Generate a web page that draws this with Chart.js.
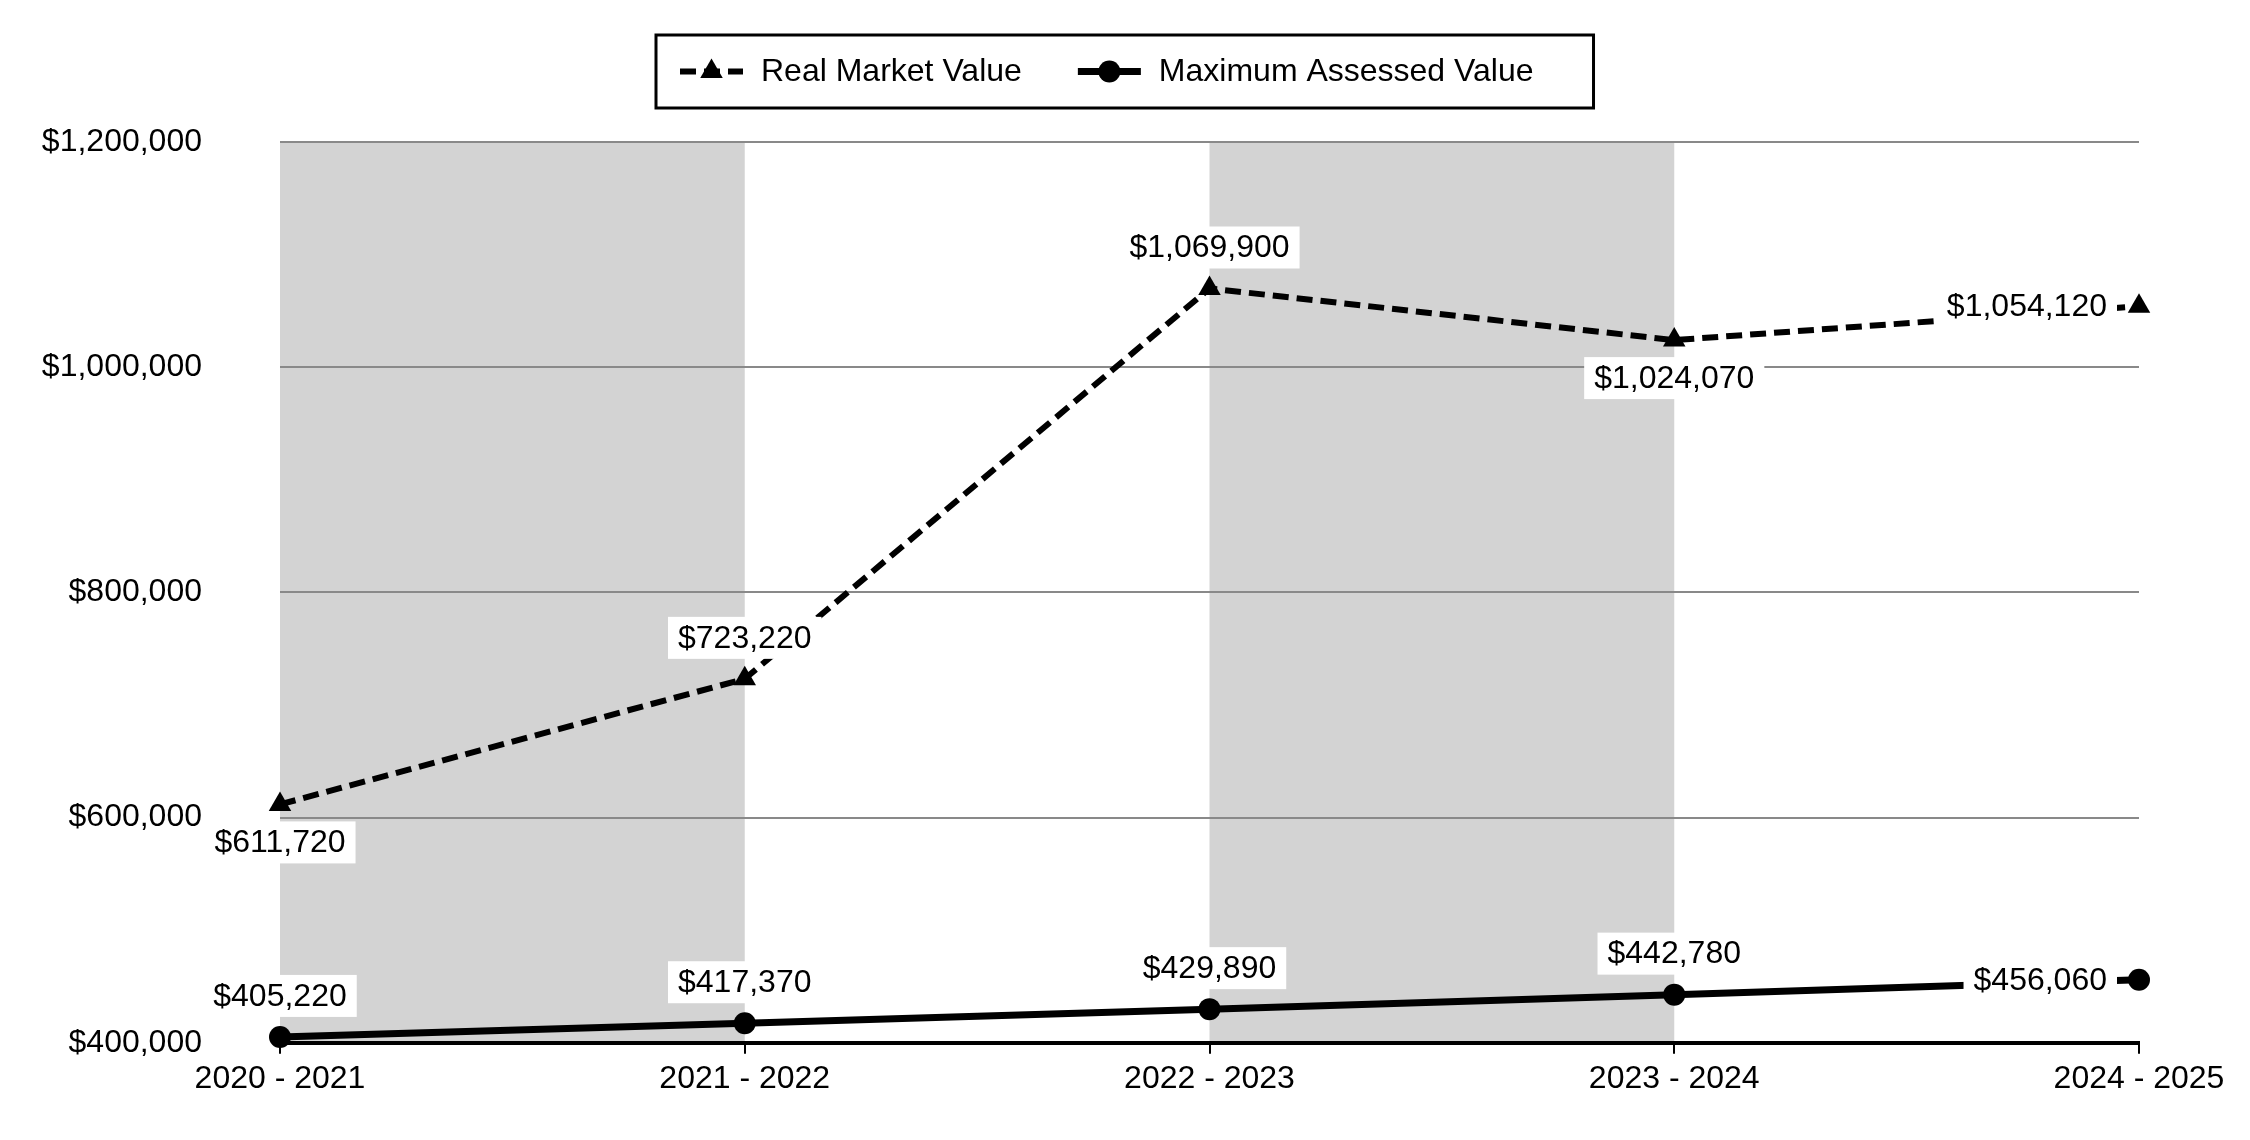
<!DOCTYPE html>
<html>
<head>
<meta charset="utf-8">
<script src="https://cdn.jsdelivr.net/npm/chart.js@4.4.1/dist/chart.umd.min.js"></script>
<style>
  html, body { margin: 0; padding: 0; background: #fff; overflow: hidden; }
  canvas { display: block; }
</style>
</head>
<body>
<canvas id="chart" width="2250" height="1140"></canvas>
<script>
// data
const years = ['2020 - 2021', '2021 - 2022', '2022 - 2023', '2023 - 2024', '2024 - 2025'];
const realMarketValue = [611720, 723220, 1069900, 1024070, 1054120];
const maxAssessedValue = [405220, 417370, 429890, 442780, 456060];
const yTicks = [400000, 600000, 800000, 1000000, 1200000];
// grey bands between these category pairs
const shadedBands = [[0, 1], [2, 3]];

const FONT = "'Liberation Sans', Arial, sans-serif";
Chart.defaults.font.family = FONT;
Chart.defaults.font.size = 32;
Chart.defaults.color = '#000';

function money(v) {
  return '$' + v.toLocaleString('en-US');
}

// shaded columns behind the grid
const bands = {
  id: 'bands',
  beforeDraw(chart) {
    const { ctx, chartArea, scales } = chart;
    ctx.save();
    ctx.fillStyle = '#d3d3d3';
    shadedBands.forEach(([a, b]) => {
      const x1 = scales.x.getPixelForValue(a);
      const x2 = scales.x.getPixelForValue(b);
      ctx.fillRect(x1, chartArea.top, x2 - x1, chartArea.bottom - chartArea.top);
    });
    ctx.restore();
  }
};

// value labels with white boxes
const pointLabels = {
  id: 'pointLabels',
  afterDatasetsDraw(chart, args, opts) {
    const ctx = chart.ctx;
    ctx.save();
    ctx.font = '32px ' + FONT;
    ctx.textAlign = 'center';
    ctx.textBaseline = 'middle';
    chart.data.datasets.forEach((ds, di) => {
      const meta = chart.getDatasetMeta(di);
      const places = opts.placement[di];
      meta.data.forEach((pt, i) => {
        const text = money(ds.data[i]);
        const w = ctx.measureText(text).width + 20;
        const h = 42;
        let cx = pt.x, cy = pt.y;
        if (places[i] === 'above') cy -= 41;
        else if (places[i] === 'below') cy += 38;
        else cx = pt.x - 22 - w / 2;
        ctx.fillStyle = '#fff';
        ctx.fillRect(cx - w / 2, cy - h / 2, w, h);
        ctx.fillStyle = '#000';
        ctx.fillText(text, cx, cy + 1);
      });
    });
    ctx.restore();
  }
};

// boxed legend with line + marker samples
const boxLegend = {
  id: 'boxLegend',
  afterDraw(chart) {
    const ctx = chart.ctx;
    ctx.save();
    ctx.font = '32px ' + FONT;
    const sampleW = 63, gap = 18, itemGap = 56, padL = 24, padR = 60;
    const items = chart.data.datasets.map(ds => ({ ds, w: ctx.measureText(ds.label).width }));
    let total = padL + padR + itemGap * (items.length - 1);
    items.forEach(it => { total += sampleW + gap + it.w; });
    const left = Math.round((chart.width - total) / 2), top = 35, h = 73;
    ctx.lineWidth = 3;
    ctx.strokeStyle = '#000';
    ctx.strokeRect(left, top, total, h);
    let x = left + padL;
    const cy = top + h / 2;
    items.forEach(({ ds, w }) => {
      ctx.beginPath();
      ctx.setLineDash(ds.borderDash || []);
      ctx.lineWidth = ds.borderWidth;
      ctx.moveTo(x, cy);
      ctx.lineTo(x + sampleW, cy);
      ctx.stroke();
      ctx.setLineDash([]);
      ctx.fillStyle = '#000';
      Chart.helpers.drawPoint(ctx, { pointStyle: ds.pointStyle, radius: ds.pointRadius, borderWidth: 0, rotation: 0 }, x + sampleW / 2, cy);
      ctx.fillStyle = '#000';
      ctx.textAlign = 'left';
      ctx.textBaseline = 'middle';
      ctx.fillText(ds.label, x + sampleW + gap, cy + 1);
      x += sampleW + gap + w + itemGap;
    });
    ctx.restore();
  }
};

new Chart(document.getElementById('chart'), {
  type: 'line',
  data: {
    labels: years,
    datasets: [
      {
        label: 'Real Market Value',
        data: realMarketValue,
        borderColor: '#000',
        borderWidth: 6,
        borderDash: [16, 8],
        pointStyle: 'triangle',
        pointRadius: 13,
        pointBackgroundColor: '#000',
        pointBorderWidth: 0,
        tension: 0,
        clip: false
      },
      {
        label: 'Maximum Assessed Value',
        data: maxAssessedValue,
        borderColor: '#000',
        borderWidth: 7,
        pointStyle: 'circle',
        pointRadius: 11,
        pointBackgroundColor: '#000',
        pointBorderWidth: 0,
        tension: 0,
        clip: false
      }
    ]
  },
  options: {
    responsive: false,
    animation: false,
    devicePixelRatio: 1,
    layout: { padding: { left: 0, right: 111, top: 142, bottom: 0 } },
    plugins: {
      legend: { display: false },
      tooltip: { enabled: false },
      pointLabels: {
        placement: [
          ['below', 'above', 'above', 'below', 'left'],
          ['above', 'above', 'above', 'above', 'left']
        ]
      }
    },
    scales: {
      x: {
        offset: false,
        afterFit: scale => { scale.height = 83; },
        grid: { drawOnChartArea: false, drawTicks: true, tickLength: 11, color: '#000', lineWidth: 2 },
        border: { display: true, color: '#000', width: 4 },
        ticks: { padding: 6, maxRotation: 0, autoSkip: false, color: '#000' }
      },
      y: {
        min: 400000,
        max: 1200000,
        afterBuildTicks: scale => { scale.ticks = yTicks.map(v => ({ value: v })); },
        afterFit: scale => { scale.width = 280; },
        grid: {
          drawTicks: false,
          lineWidth: 2,
          color: ctx => (ctx.tick && ctx.tick.value === 400000 ? '#000' : '#898989')
        },
        border: { display: false },
        ticks: { padding: 78, color: '#000', callback: v => money(v) }
      }
    }
  },
  plugins: [bands, pointLabels, boxLegend]
});
</script>
</body>
</html>
